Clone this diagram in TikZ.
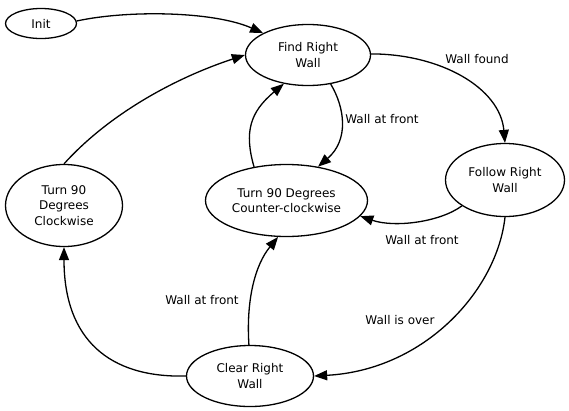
\documentclass[tikz,border=0pt]{standalone}
\usepackage{fontspec}
\setmainfont{DejaVu Sans}
\usetikzlibrary{shapes.geometric,arrows.meta}
\begin{document}
\begin{tikzpicture}[x=1pt,y=-1pt,
  every node/.style={font=\fontsize{12}{15.5}\selectfont},
  state/.style={draw,ellipse,line width=1.3pt,inner sep=0pt,align=center},
  edge/.style={line width=1.3pt,-{Triangle[length=13pt,width=10pt]}},
  lbl/.style={inner sep=0pt}]
\fill[white] (0,0) rectangle (569,410);
\useasboundingbox (0,0) rectangle (569,410);
% states
\node[state,minimum width=71pt,minimum height=30pt] (init) at (41,23.5) {Init};
\node[state,minimum width=125pt,minimum height=61pt] (find) at (308,55) {Find Right\\Wall};
\node[state,minimum width=119pt,minimum height=73pt] (follow) at (505,180) {Follow Right\\Wall};
\node[state,minimum width=162pt,minimum height=72pt] (ccw) at (286.5,200.5) {Turn 90 Degrees\\Counter-clockwise};
\node[state,minimum width=117pt,minimum height=82pt] (cw) at (64,205.5) {Turn 90\\Degrees\\Clockwise};
\node[state,minimum width=127pt,minimum height=61pt] (clear) at (250,376) {Clear Right\\Wall};
% labels
\node[lbl] (lfound) at (477,59) {Wall found};
\node[lbl] (lfront1) at (382,119) {Wall at front};
\node[lbl] (lfront2) at (422,240) {Wall at front};
\node[lbl] (lfront3) at (202,300) {Wall at front};
\node[lbl] (lover) at (400,320) {Wall is over};
% edges
\draw[edge] (init.4) .. controls (127,10) and (213,11) .. (find.154);
\draw[edge] (cw.90) .. controls (109,114) and (175,78) .. (find.180);
\draw[edge] (find.1) .. controls (441,54) and (500,88) .. (follow.90);
\draw[edge] (find.-52) .. controls (345,108) and (349,140) .. (ccw.47);
\draw[edge] (ccw.134) .. controls (244,132) and (250,112) .. (find.-130);
\draw[edge] (follow.211) .. controls (440,222) and (395,228) .. (ccw.-12);
\draw[edge] (follow.270) .. controls (497,290) and (425,370) .. (clear.0);
\draw[edge] (clear.180) .. controls (110,378) and (64,340) .. (cw.270);
\draw[edge] (clear.92) .. controls (246,300) and (255,265) .. (ccw.-103);
\end{tikzpicture}
\end{document}
